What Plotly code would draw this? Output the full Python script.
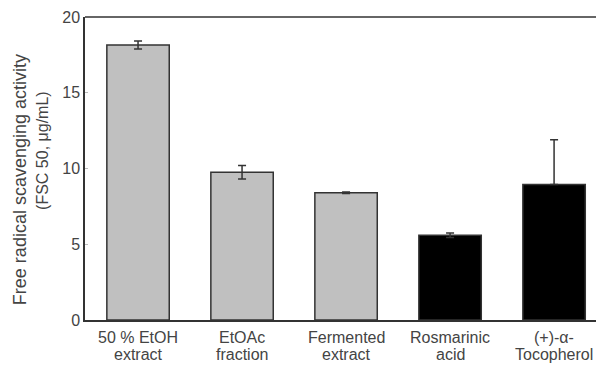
import plotly.graph_objects as go

label_line1 = ["50 % EtOH", "EtOAc", "Fermented", "Rosmarinic", "(+)-α-"]
label_line2 = ["extract", "fraction", "extract", "acid", "Tocopherol"]
values = [18.15, 9.75, 8.4, 5.6, 8.95]
err_plus = [0.27, 0.45, 0.05, 0.15, 2.95]
err_minus = [0.27, 0.45, 0.05, 0.15, 0.0]
colors = ["#c0c0c0", "#c0c0c0", "#c0c0c0", "#000000", "#000000"]
y_ticks = [0, 5, 10, 15, 20]
ytitle1 = "Free radical scavenging activity"
ytitle2 = "(FSC 50, μg/mL)"

xpos = list(range(len(values)))

fig = go.Figure()
fig.add_trace(go.Bar(
    x=xpos, y=values,
    width=0.6,
    marker=dict(color=colors, line=dict(color="#333333", width=1.5)),
    error_y=dict(type="data", array=err_plus, arrayminus=err_minus, symmetric=False,
                 color="#333333", thickness=1.5, width=4),
))

# the page body has an 8px margin; size the figure to fit the visible window
fig.update_layout(
    width=596, height=358,
    margin=dict(l=77, r=0, t=9, b=46),
    plot_bgcolor="white", paper_bgcolor="white",
    showlegend=False,
    font=dict(family="Liberation Sans, Arial, sans-serif", size=15, color="#444444"),
)
fig.update_xaxes(
    tickvals=xpos, showticklabels=False,
    range=[-0.51, 4.48], showline=True, linecolor="#333333", linewidth=1.5,
    ticks="", showgrid=False, zeroline=False, automargin=False,
)
fig.update_yaxes(
    range=[0, 20], tickvals=y_ticks, showline=True, linecolor="#333333",
    linewidth=1.5, ticks="inside", ticklen=3, tickcolor="#bbbbbb", showgrid=False,
    zeroline=False, tickfont=dict(size=16), automargin=False,
)
fig.add_shape(type="line", xref="paper", yref="paper", x0=0, x1=1, y0=1, y1=1,
              line=dict(color="#333333", width=1.5))
fig.add_annotation(text=ytitle1, xref="paper", yref="paper", x=-0.125, y=0.462,
                   textangle=-90, showarrow=False, xanchor="center", yanchor="middle",
                   font=dict(size=18))
fig.add_annotation(text=ytitle2, xref="paper", yref="paper", x=-0.083, y=0.561,
                   textangle=-90, showarrow=False, xanchor="center", yanchor="middle",
                   font=dict(size=16))
for xi, l1, l2 in zip(xpos, label_line1, label_line2):
    fig.add_annotation(text=l1, x=xi, xref="x", yref="paper", y=-0.0594,
                       showarrow=False, xanchor="center", yanchor="middle",
                       font=dict(size=16))
    fig.add_annotation(text=l2, x=xi, xref="x", yref="paper", y=-0.1155,
                       showarrow=False, xanchor="center", yanchor="middle",
                       font=dict(size=16))

fig.write_html("out.html")
